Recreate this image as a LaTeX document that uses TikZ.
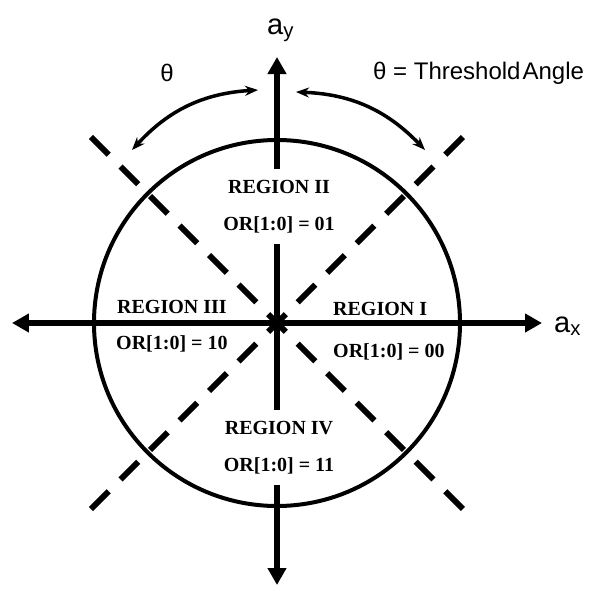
\documentclass[tikz,border=0pt]{standalone}
\usepackage{fontspec}
\setmainfont{Liberation Serif}
\newfontfamily\lblfont{Liberation Sans}
\usetikzlibrary{arrows.meta,positioning}
\tikzset{
  axis/.style   = {{Triangle[length=17pt,width=18pt]}-{Triangle[length=17pt,width=18pt]},
                   line width=6pt},
  diag/.style   = {line width=6pt, dash pattern=on 25pt off 16.75pt},
  rim/.style    = {line width=4pt},
  sweep/.style  = {{Stealth[length=13pt,width=10pt]}-{Stealth[length=13pt,width=10pt]},
                   line width=3.5pt},
  regtxt/.style = {font=\fontsize{20}{36.5}\selectfont\bfseries, inner sep=0pt},
  lbl/.style    = {font=\lblfont\fontsize{24}{28}\selectfont, inner sep=0pt},
  axlbl/.style  = {font=\lblfont\fontsize{29}{32}\selectfont, inner sep=0pt},
}

\begin{document}
\begin{tikzpicture}[x=1pt,y=1pt]
  \useasboundingbox (-277,-267) rectangle (314,323);
  \coordinate (o)  at (0,0);
  \coordinate (xl) at (-265,0);   \coordinate (xr) at (265,0);
  \coordinate (yb) at (0,-262);   \coordinate (yt) at (0,266);
  \coordinate (d1) at (-186,186); \coordinate (d2) at (186,-186);
  \coordinate (d3) at (-186,-186);\coordinate (d4) at (186,186);
  % circle and threshold lines
  \draw[rim] (o) circle (183);
  \draw[diag] (d1) -- (d2);
  \draw[diag] (d3) -- (d4);
  % axes
  \draw[axis] (xl) -- (xr);
  \draw[axis] (yb) -- (yt);
  \node[axlbl,anchor=base west] (ax) at (277,-9) {a\textsubscript{x}};
  \node[axlbl,anchor=base west] (ay) at (-10,289) {a\textsubscript{y}};
  % angle arrows
  \coordinate (la) at (-145,173); \coordinate (lb) at (-19,233);
  \coordinate (ra) at (19,231);   \coordinate (rb) at (148,173);
  \draw[sweep] (la) to[bend left=22] (lb);
  \draw[sweep] (ra) to[bend left=22] (rb);
  \node[lbl] (th) at (-110,250) {θ};
  \node[lbl,anchor=west] (thdef) at (96,250) {θ = Threshold\hspace{2pt}Angle};
  % regions
  \node[regtxt,fill=white,inner sep=11pt,align=center] (reg2) at (2,116.5)
    {REGION II\\OR[1:0] = 01};
  \node[regtxt,fill=white,inner sep=11pt,align=center] (reg4) at (2,-124.5)
    {REGION IV\\OR[1:0] = 11};
  \node[regtxt,anchor=base west] (reg1) at (56,8) {REGION I};
  \node[regtxt,anchor=base west] (or1)  at (56,-34) {OR[1:0] = 00};
  \node[regtxt,anchor=base west] (reg3) at (-160,10) {REGION III};
  \node[regtxt,anchor=base west] (or3)  at (-161,-26) {OR[1:0] = 10};
\end{tikzpicture}
\end{document}
